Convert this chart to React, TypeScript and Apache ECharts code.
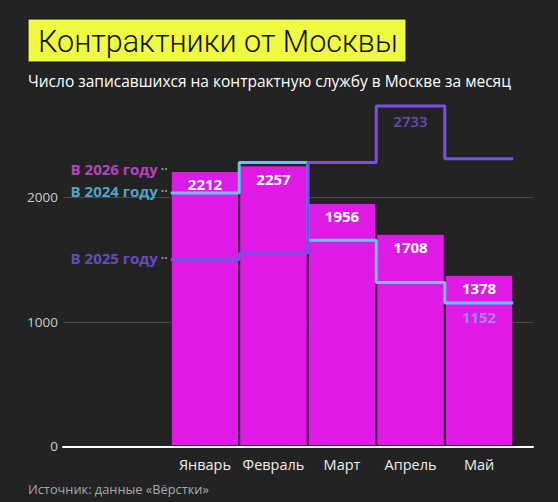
import React, { useEffect, useRef } from "react";
import * as echarts from "echarts";

const months = ["Январь", "Февраль", "Март", "Апрель", "Май"];
const values2026 = [2212, 2257, 1956, 1708, 1378];
const values2024 = [2035, 2280, 1655, 1315, 1152];
const values2025 = [1500, 1550, 2280, 2733, 2310];
const yTicks = [0, 1000, 2000];
const annotated2025Index = 3;
const annotated2024Index = 4;

const title = "Контрактники от Москвы";
const subtitle = "Число записавшихся на контрактную службу в Москве за месяц";
const source = "Источник: данные «Вёрстки»";

const BG = "#232323";
const MAGENTA = "#df1ae6";
const CYAN = "#5ec8f3";
const PURPLE = "#7a4fe6";
const FONT = "'Open Sans', 'Noto Sans', sans-serif";

function stepPoints(vals: number[]) {
  const pts: number[][] = [];
  vals.forEach((v, i) => {
    pts.push([i, v]);
    pts.push([i + 1, v]);
  });
  return pts;
}

function legendLabel(text: string, color: string) {
  return {
    show: true,
    position: "left",
    distance: 3,
    offset: [0, -2],
    formatter: () => `{a|${text}} {d|··}`,
    rich: {
      a: { color, fontSize: 15, fontWeight: 700, fontFamily: FONT },
      d: { color: "#bbbbbb", fontSize: 12, fontWeight: 700, fontFamily: FONT },
    },
  };
}

export default function App() {
  const ref = useRef<HTMLDivElement>(null);
  useEffect(() => {
    if (!ref.current) return;
    const chart = echarts.init(ref.current, null, { renderer: "svg" });
    const option: any = {
      animation: false,
      backgroundColor: BG,
      textStyle: { fontFamily: FONT },
      graphic: [
        {
          type: "rect",
          shape: { x: 28, y: 19, width: 378, height: 43 },
          style: { fill: "#eefb40", stroke: "#111", lineWidth: 1 },
          z: 10,
        },
        {
          type: "text",
          style: {
            text: title,
            x: 38,
            y: 41,
            verticalAlign: "middle",
            fill: "#111111",
            fontSize: 30.5,
            fontWeight: 300,
            fontFamily: "Roboto, 'Liberation Sans', sans-serif",
          },
          z: 11,
        },
        {
          type: "text",
          style: {
            text: subtitle,
            x: 28,
            y: 81,
            verticalAlign: "middle",
            fill: "#ffffff",
            fontSize: 15.5,
            fontFamily: FONT,
          },
        },
        {
          type: "text",
          style: {
            text: source,
            x: 28,
            y: 489,
            verticalAlign: "middle",
            fill: "#aaaaaa",
            fontSize: 12.8,
            fontFamily: FONT,
          },
        },
      ],
      grid: [
        { left: 63, right: 25, top: 197.3, bottom: 55.7 },
        { left: 170.7, right: 44.7, top: 72.8, bottom: 55.7 },
      ],
      xAxis: [
        {
          gridIndex: 0,
          type: "value",
          min: 0,
          max: 1,
          axisLine: { show: true, lineStyle: { color: "#ffffff", width: 2 } },
          axisTick: { show: false },
          axisLabel: { show: false },
          splitLine: { show: false },
          z: 5,
        },
        {
          gridIndex: 1,
          type: "category",
          data: months,
          axisLine: { show: false },
          axisTick: { show: false },
          axisLabel: {
            interval: 0,
            color: "#eeeeee",
            fontSize: 14.5,
            fontFamily: FONT,
            margin: 11,
          },
        },
        {
          gridIndex: 1,
          type: "value",
          position: "top",
          min: 0,
          max: months.length,
          show: false,
        },
      ],
      yAxis: [
        {
          gridIndex: 0,
          type: "value",
          min: yTicks[0],
          max: yTicks[yTicks.length - 1],
          interval: 1000,
          axisLine: { show: false },
          axisTick: { show: false },
          axisLabel: {
            color: "#cccccc",
            fontSize: 13.5,
            fontFamily: FONT,
            margin: 5,
            formatter: (v: number) => String(v),
          },
          splitLine: { show: true, lineStyle: { color: "#4a4a4a", width: 1 } },
        },
        {
          gridIndex: 1,
          type: "value",
          min: 0,
          max: 3000,
          show: false,
        },
      ],
      series: [
        {
          type: "bar",
          xAxisIndex: 1,
          yAxisIndex: 1,
          data: values2026,
          barCategoryGap: 0,
          itemStyle: { color: MAGENTA, borderColor: "#2a1030", borderWidth: 1 },
          label: {
            show: true,
            position: "insideTop",
            distance: 6,
            color: "#ffffff",
            fontSize: 15,
            fontWeight: 700,
            fontFamily: FONT,
          },
          z: 2,
        },
        {
          type: "line",
          xAxisIndex: 2,
          yAxisIndex: 1,
          data: stepPoints(values2024),
          symbol: "none",
          lineStyle: { color: CYAN, width: 3 },
          z: 3,
        },
        {
          type: "line",
          xAxisIndex: 2,
          yAxisIndex: 1,
          data: stepPoints(values2025),
          symbol: "none",
          lineStyle: { color: PURPLE, width: 3 },
          z: 4,
        },
        {
          type: "scatter",
          xAxisIndex: 2,
          yAxisIndex: 1,
          symbolSize: 0,
          z: 6,
          data: [
            { value: [0, values2026[0]], label: legendLabel("В 2026 году", "#e04de8") },
            { value: [0, values2024[0]], label: legendLabel("В 2024 году", CYAN) },
            { value: [0, values2025[0]], label: legendLabel("В 2025 году", "#7d55e8") },
            {
              value: [annotated2025Index + 0.5, values2025[annotated2025Index]],
              label: {
                show: true,
                position: "bottom",
                distance: 7,
                formatter: String(values2025[annotated2025Index]),
                color: "#7d55e8",
                fontSize: 15,
                fontWeight: 600,
                fontFamily: FONT,
              },
            },
            {
              value: [annotated2024Index + 0.5, values2024[annotated2024Index]],
              label: {
                show: true,
                position: "bottom",
                distance: 7,
                formatter: String(values2024[annotated2024Index]),
                color: "#8fa2f3",
                fontSize: 15,
                fontWeight: 700,
                fontFamily: FONT,
              },
            },
          ],
        },
      ],
    };
    chart.setOption(option);
    return () => chart.dispose();
  }, []);
  return (
    <div
      ref={ref}
      style={{ position: "fixed", left: 0, top: 0, width: 558, height: 502 }}
    />
  );
}
